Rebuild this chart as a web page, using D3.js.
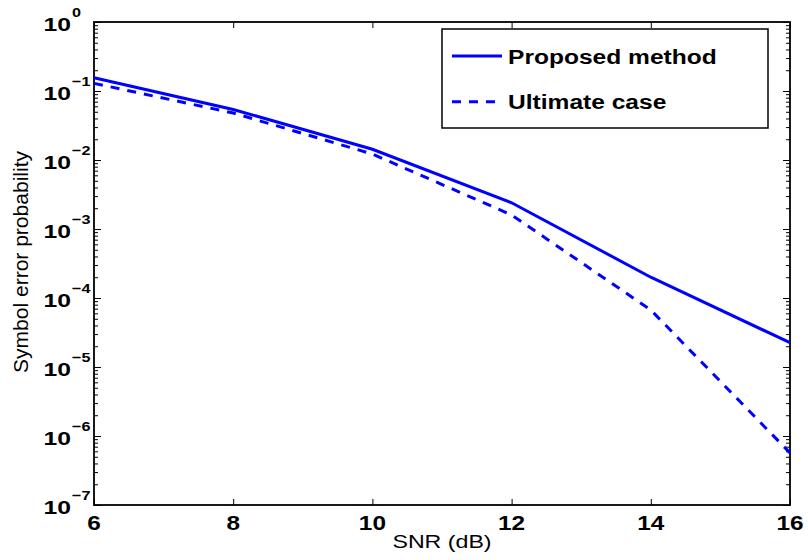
<!DOCTYPE html>
<html>
<head>
<meta charset="utf-8">
<script src="https://cdn.jsdelivr.net/npm/d3@7"></script>
<style>
  body { margin: 0; background: #fff; }
  svg text { font-family: "Liberation Sans", Arial, sans-serif; }
</style>
</head>
<body>
<svg id="chart" width="808" height="560"></svg>
<script>
var snr = [6, 8, 10, 12, 14, 16];
var proposed = [0.156, 0.054, 0.0143, 2.4e-3, 2.0e-4, 2.25e-5];
var ultimate = [0.129, 0.048, 0.0122, 1.6e-3, 6.7e-5, 5.7e-7];
var xTicks = [6, 8, 10, 12, 14, 16];
var yExponents = [0, -1, -2, -3, -4, -5, -6, -7];
var seriesNames = ["Proposed method", "Ultimate case"];

var plotLeft = 94, plotRight = 790, plotTop = 22, plotBottom = 505;
var blue = "#0000ff";

var svg = d3.select("#chart");

var x = d3.scaleLinear().domain([6, 16]).range([plotLeft, plotRight]);
var y = d3.scaleLog().domain([1e-7, 1]).range([plotBottom, plotTop]);

var yMajor = yExponents.map(function (e) { return Math.pow(10, e); });
var yMinor = y.ticks().filter(function (v) {
    var l = Math.log10(v);
    return Math.abs(l - Math.round(l)) > 1e-6;
});

// ticks on all four sides, pointing inward
function addAxis(axis, tx, ty, len) {
    var g = svg.append("g").attr("transform", "translate(" + tx + "," + ty + ")")
        .call(axis.tickSize(len).tickSizeOuter(0).tickFormat(""));
    g.select(".domain").remove();
    g.selectAll(".tick line").attr("stroke", "#000").attr("stroke-width", 1);
}
addAxis(d3.axisBottom(x).tickValues(xTicks), 0, plotBottom, -6);
addAxis(d3.axisTop(x).tickValues(xTicks), 0, plotTop, -6);
addAxis(d3.axisLeft(y).tickValues(yMajor), plotLeft, 0, -7);
addAxis(d3.axisRight(y).tickValues(yMajor), plotRight, 0, -7);
addAxis(d3.axisLeft(y).tickValues(yMinor), plotLeft, 0, -4);
addAxis(d3.axisRight(y).tickValues(yMinor), plotRight, 0, -4);

svg.append("rect")
    .attr("x", plotLeft).attr("y", plotTop)
    .attr("width", plotRight - plotLeft).attr("height", plotBottom - plotTop)
    .attr("fill", "none").attr("stroke", "#000").attr("stroke-width", 1.8);

// stretched text helper
function label(tx, ty, str, size, weight, anchor, sx) {
    return svg.append("text")
        .attr("transform", "translate(" + tx + "," + ty + ") scale(" + sx + ",1)")
        .attr("text-anchor", anchor)
        .attr("font-size", size)
        .attr("font-weight", weight)
        .text(str);
}

xTicks.forEach(function (t) {
    label(x(t), 529.5, t, 20, "bold", "middle", 1.22);
});

yExponents.forEach(function (e) {
    var py = y(Math.pow(10, e));
    label(71, py + 8.5, "10", 19, "bold", "end", 1.3);
    label(72, py - 5.5, e < 0 ? "\u2212" + (-e) : String(e), 13.5, "bold", "start", 1.2);
});

label(442, 548.3, "SNR (dB)", 19, "normal", "middle", 1.22);

svg.append("text")
    .attr("transform", "translate(28,262) rotate(-90)")
    .attr("text-anchor", "middle")
    .attr("font-size", 19.5)
    .attr("textLength", 222)
    .attr("lengthAdjust", "spacingAndGlyphs")
    .text("Symbol error probability");

var line = d3.line()
    .x(function (d) { return x(d[0]); })
    .y(function (d) { return y(d[1]); });

svg.append("path")
    .datum(d3.zip(snr, proposed))
    .attr("d", line)
    .attr("fill", "none").attr("stroke", blue).attr("stroke-width", 3);

svg.append("path")
    .datum(d3.zip(snr, ultimate))
    .attr("d", line)
    .attr("fill", "none").attr("stroke", blue).attr("stroke-width", 3)
    .attr("stroke-dasharray", "9,8");

// legend
var legend = svg.append("g");
legend.append("rect")
    .attr("x", 442).attr("y", 29).attr("width", 326).attr("height", 99)
    .attr("fill", "#fff").attr("stroke", "#000").attr("stroke-width", 1.5);

seriesNames.forEach(function (name, i) {
    var ly = 56 + i * 45.7;
    legend.append("line")
        .attr("x1", 452).attr("x2", 502).attr("y1", ly).attr("y2", ly)
        .attr("stroke", blue).attr("stroke-width", 3)
        .attr("stroke-dasharray", i == 1 ? "9,8" : null);
    legend.append("text")
        .attr("transform", "translate(508," + (ly + 7.5) + ") scale(1.17,1)")
        .attr("font-size", 21)
        .attr("font-weight", "bold")
        .text(name);
});
</script>
</body>
</html>
